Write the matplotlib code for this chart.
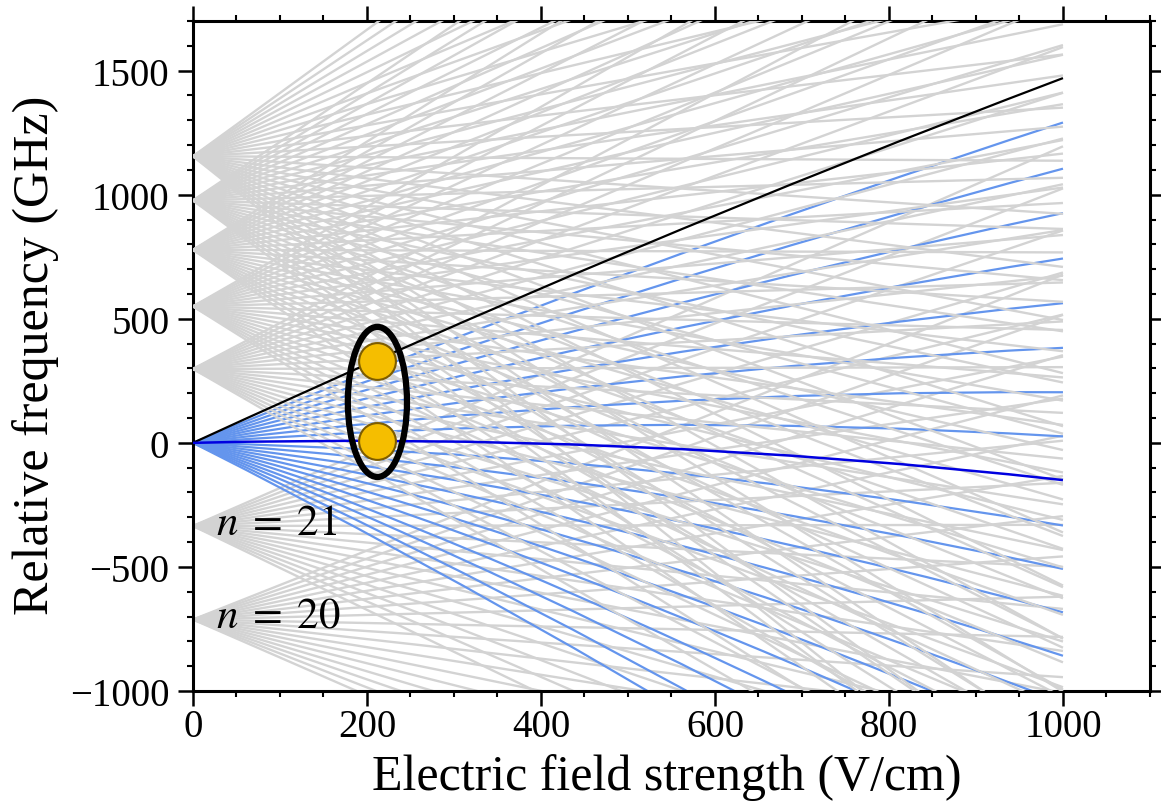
import matplotlib
matplotlib.use("Agg")
import matplotlib.pyplot as plt
import numpy as np
from matplotlib.path import Path
from matplotlib.patches import PathPatch, Ellipse

plt.rcParams['font.family'] = ['Liberation Serif', 'DejaVu Serif']
plt.rcParams['mathtext.fontset'] = 'stix'

# n = 22 Stark states, frequency (GHz) at 500 and 1000 V/cm, top to bottom
blue_mid = [771, 684, 595, 508, 420, 333, 245, 158, 72, -15, -103,
            -189, -275, -361, -450, -536, -618, -707, -785, -871, -953]
blue_end = [1470, 1291, 1105, 926, 743, 563, 383, 204, 26, -150, -333,
            -508, -683, -858, -1047, -1223, -1381, -1566, -1712, -1884, -2044]
top_state = 0      # black
target_state = 9   # dark blue

# neighbouring hydrogenic manifolds (grey fans)
gray_n = [20, 21, 23, 24, 25, 26, 27]
gray_zero = [-712, -335, 298, 550, 778, 977, 1155]
gray_top = [1390, 1530, 1850, 2010, 2180, 2360, 2550]
gray_bottom = [-1530, -1690, -2020, -2200, -2400, -2590, -2800]

# highlighted pair of states
mark_field = [212, 212]
mark_freq = [330, 8]

label_n = [21, 20]
label_freq = [-367, -742]

field_mid = 500
field_max = 1000

gray = '#d3d3d3'
light_blue = '#6495ed'
dark_blue = '#0000e0'

fig = plt.figure(figsize=(11.61, 8.04), dpi=100)
ax = fig.add_axes([0.1662, 0.1393, 0.8243, 0.8333])


def draw_fans(idx, z):
    for i in idx:
        tops = np.linspace(gray_top[i], gray_bottom[i], gray_n[i] - 1)
        for t in tops:
            ax.plot([0, field_max], [gray_zero[i], gray_zero[i] + t],
                    color=gray, lw=1.7, zorder=z, solid_capstyle='butt')


def stark_curve(mid, end):
    # quadratic bezier through (0,0), (500,mid), (1000,end)
    ctrl = 2 * mid - end / 2
    verts = [(0, 0), (field_mid, ctrl), (field_max, end)]
    return Path(verts, [Path.MOVETO, Path.CURVE3, Path.CURVE3])


# lower manifolds sit under the n = 22 states, upper ones over them
draw_fans([0, 1], 1)

for j, (m, e) in enumerate(zip(blue_mid, blue_end)):
    if j == top_state:
        col, z, lw = 'black', 4, 1.6
    elif j == target_state:
        col, z, lw = dark_blue, 4, 1.8
    else:
        col, z, lw = light_blue, 2, 1.6
    ax.add_patch(PathPatch(stark_curve(m, e), facecolor='none',
                           edgecolor=col, lw=lw, zorder=z))

draw_fans([2, 3, 4, 5, 6], 3)

ax.add_patch(Ellipse((212, 165), 68, 605, facecolor='none',
                     edgecolor='black', lw=4.5, zorder=5))
ax.plot(mark_field, mark_freq, 'o', ms=26.5, mfc='#f5be00',
        mec='#7d5c00', mew=1.5, zorder=6)

for n, y in zip(label_n, label_freq):
    ax.text(27, y, r'$n\;=\;%d$' % n, fontsize=31, ha='left',
            va='baseline', zorder=6)

ax.set_xlim(0, 1100)
ax.set_ylim(-1000, 1700)
ax.set_xticks(np.arange(0, 1001, 200))
ax.set_xticks(np.arange(0, 1101, 50), minor=True)
ax.set_yticks(np.arange(-1000, 1501, 500))
ax.set_yticks(np.arange(-1000, 1701, 100), minor=True)

ax.tick_params(which='both', direction='out', top=True, right=True,
               labelsize=28)
ax.tick_params(which='major', length=11, width=1.8)
ax.tick_params(which='minor', length=4.5, width=1.5)
ax.tick_params(axis='x', pad=1)
ax.tick_params(axis='y', pad=6)
for s in ax.spines.values():
    s.set_linewidth(2.2)

ax.set_xlabel('Electric field strength (V/cm)', fontsize=36, va='baseline')
ax.xaxis.set_label_coords(0.4948, -0.146)
ax.set_ylabel('Relative frequency (GHz)', fontsize=36, va='center',
              ha='center')
ax.yaxis.set_label_coords(-0.164, 0.503)

fig.savefig('out.png', dpi=100)
